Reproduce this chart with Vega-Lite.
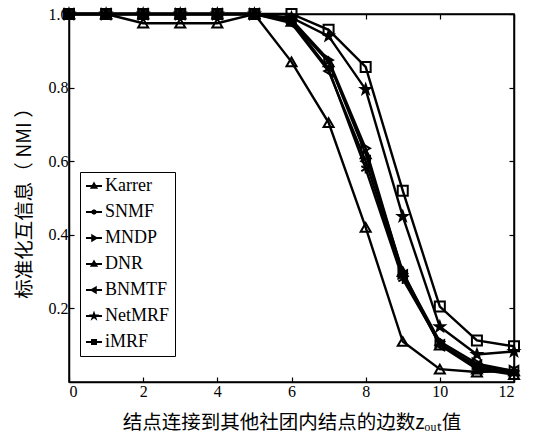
{
  "$schema": "https://vega.github.io/schema/vega-lite/v6.json",
  "width": 445,
  "height": 368,
  "autosize": {"type": "none"},
  "padding": {"left": 69, "top": 14, "right": 23, "bottom": 53},
  "background": "white",
  "config": {
    "view": {"stroke": "black", "strokeWidth": 1.5},
    "axis": {
      "grid": false,
      "domainColor": "black",
      "domainWidth": 1.5,
      "tickColor": "black",
      "tickWidth": 1.2,
      "tickSize": -5,
      "labelFont": "Liberation Serif",
      "labelFontSize": 16,
      "labelColor": "black",
      "labelPadding": 6,
      "titleFont": "Noto Sans CJK SC",
      "titleFontSize": 19.5,
      "titleFontWeight": "normal",
      "titleColor": "black"
    },
    "legend": {
      "orient": "none",
      "legendX": 11,
      "legendY": 158,
      "strokeColor": "black",
      "fillColor": "white",
      "padding": 5,
      "labelFont": "Liberation Serif",
      "labelFontSize": 18,
      "labelColor": "black",
      "symbolSize": 256,
      "symbolStrokeWidth": 2,
      "symbolStrokeColor": "black",
      "symbolOpacity": 1,
      "rowPadding": 8,
      "labelOffset": 2
    }
  },
  "data": {
    "values": [
      {"x": 0, "y": 1, "m": "Karrer"}, {"x": 1, "y": 1, "m": "Karrer"}, {"x": 2, "y": 0.975, "m": "Karrer"}, {"x": 3, "y": 0.975, "m": "Karrer"}, {"x": 4, "y": 0.975, "m": "Karrer"}, {"x": 5, "y": 1, "m": "Karrer"}, {"x": 6, "y": 0.87, "m": "Karrer"}, {"x": 7, "y": 0.705, "m": "Karrer"}, {"x": 8, "y": 0.42, "m": "Karrer"}, {"x": 9, "y": 0.11, "m": "Karrer"}, {"x": 10, "y": 0.035, "m": "Karrer"}, {"x": 11, "y": 0.027, "m": "Karrer"}, {"x": 12, "y": 0.03, "m": "Karrer"},
      {"x": 0, "y": 1, "m": "SNMF"}, {"x": 1, "y": 1, "m": "SNMF"}, {"x": 2, "y": 1, "m": "SNMF"}, {"x": 3, "y": 1, "m": "SNMF"}, {"x": 4, "y": 1, "m": "SNMF"}, {"x": 5, "y": 1, "m": "SNMF"}, {"x": 6, "y": 0.98, "m": "SNMF"}, {"x": 7, "y": 0.85, "m": "SNMF"}, {"x": 8, "y": 0.58, "m": "SNMF"}, {"x": 9, "y": 0.28, "m": "SNMF"}, {"x": 10, "y": 0.105, "m": "SNMF"}, {"x": 11, "y": 0.04, "m": "SNMF"}, {"x": 12, "y": 0.025, "m": "SNMF"},
      {"x": 0, "y": 1, "m": "MNDP"}, {"x": 1, "y": 1, "m": "MNDP"}, {"x": 2, "y": 1, "m": "MNDP"}, {"x": 3, "y": 1, "m": "MNDP"}, {"x": 4, "y": 1, "m": "MNDP"}, {"x": 5, "y": 1, "m": "MNDP"}, {"x": 6, "y": 0.985, "m": "MNDP"}, {"x": 7, "y": 0.875, "m": "MNDP"}, {"x": 8, "y": 0.635, "m": "MNDP"}, {"x": 9, "y": 0.295, "m": "MNDP"}, {"x": 10, "y": 0.11, "m": "MNDP"}, {"x": 11, "y": 0.05, "m": "MNDP"}, {"x": 12, "y": 0.03, "m": "MNDP"},
      {"x": 0, "y": 1, "m": "DNR"}, {"x": 1, "y": 1, "m": "DNR"}, {"x": 2, "y": 1, "m": "DNR"}, {"x": 3, "y": 1, "m": "DNR"}, {"x": 4, "y": 1, "m": "DNR"}, {"x": 5, "y": 1, "m": "DNR"}, {"x": 6, "y": 0.98, "m": "DNR"}, {"x": 7, "y": 0.87, "m": "DNR"}, {"x": 8, "y": 0.62, "m": "DNR"}, {"x": 9, "y": 0.3, "m": "DNR"}, {"x": 10, "y": 0.1, "m": "DNR"}, {"x": 11, "y": 0.035, "m": "DNR"}, {"x": 12, "y": 0.02, "m": "DNR"},
      {"x": 0, "y": 1, "m": "BNMTF"}, {"x": 1, "y": 1, "m": "BNMTF"}, {"x": 2, "y": 1, "m": "BNMTF"}, {"x": 3, "y": 1, "m": "BNMTF"}, {"x": 4, "y": 1, "m": "BNMTF"}, {"x": 5, "y": 1, "m": "BNMTF"}, {"x": 6, "y": 0.975, "m": "BNMTF"}, {"x": 7, "y": 0.845, "m": "BNMTF"}, {"x": 8, "y": 0.6, "m": "BNMTF"}, {"x": 9, "y": 0.29, "m": "BNMTF"}, {"x": 10, "y": 0.1, "m": "BNMTF"}, {"x": 11, "y": 0.045, "m": "BNMTF"}, {"x": 12, "y": 0.03, "m": "BNMTF"},
      {"x": 0, "y": 1, "m": "NetMRF"}, {"x": 1, "y": 1, "m": "NetMRF"}, {"x": 2, "y": 1, "m": "NetMRF"}, {"x": 3, "y": 1, "m": "NetMRF"}, {"x": 4, "y": 1, "m": "NetMRF"}, {"x": 5, "y": 1, "m": "NetMRF"}, {"x": 6, "y": 0.99, "m": "NetMRF"}, {"x": 7, "y": 0.94, "m": "NetMRF"}, {"x": 8, "y": 0.795, "m": "NetMRF"}, {"x": 9, "y": 0.45, "m": "NetMRF"}, {"x": 10, "y": 0.15, "m": "NetMRF"}, {"x": 11, "y": 0.075, "m": "NetMRF"}, {"x": 12, "y": 0.083, "m": "NetMRF"},
      {"x": 0, "y": 1, "m": "iMRF"}, {"x": 1, "y": 1, "m": "iMRF"}, {"x": 2, "y": 1, "m": "iMRF"}, {"x": 3, "y": 1, "m": "iMRF"}, {"x": 4, "y": 1, "m": "iMRF"}, {"x": 5, "y": 1, "m": "iMRF"}, {"x": 6, "y": 1, "m": "iMRF"}, {"x": 7, "y": 0.957, "m": "iMRF"}, {"x": 8, "y": 0.856, "m": "iMRF"}, {"x": 9, "y": 0.52, "m": "iMRF"}, {"x": 10, "y": 0.205, "m": "iMRF"}, {"x": 11, "y": 0.113, "m": "iMRF"}, {"x": 12, "y": 0.097, "m": "iMRF"}
    ]
  },
  "resolve": {
    "axis": {"x": "independent", "y": "independent"},
    "scale": {"shape": "independent"},
    "legend": {"shape": "independent"}
  },
  "layer": [
    {
      "mark": {"type": "line", "color": "black", "strokeWidth": 2.4},
      "encoding": {
        "x": {"field": "x", "type": "quantitative", "scale": {"domain": [0, 12], "nice": false},
              "axis": {"values": [0, 2, 4, 6, 8, 10, 12], "title": "结点连接到其他社团内结点的边数zₒᵤₜ值", "titlePadding": 14}},
        "y": {"field": "y", "type": "quantitative", "scale": {"domain": [0, 1], "nice": false},
              "axis": {"values": [0.2, 0.4, 0.6, 0.8, 1.0], "format": ".1f", "title": "标准化互信息（ NMI ）", "titlePadding": 14}},
        "detail": {"field": "m"}
      }
    },
    {
      "mark": {"type": "point", "filled": true, "stroke": "black", "strokeWidth": 2, "size": 100, "opacity": 1},
      "encoding": {
        "x": {"field": "x", "type": "quantitative", "axis": null},
        "y": {"field": "y", "type": "quantitative", "axis": null},
        "shape": {
          "field": "m", "type": "nominal",
          "scale": {
            "domain": ["Karrer", "SNMF", "MNDP", "DNR", "BNMTF", "NetMRF", "iMRF"],
            "range": ["triangle-up", "M0,-1V1M-0.87,-0.5L0.87,0.5M-0.87,0.5L0.87,-0.5", "triangle-right", "triangle-up", "triangle-left", "M0,-1L0.24,-0.33L0.95,-0.31L0.38,0.12L0.59,0.81L0,0.4L-0.59,0.81L-0.38,0.12L-0.95,-0.31L-0.24,-0.33Z", "square"]
          },
          "legend": null
        },
        "fill": {
          "field": "m", "type": "nominal",
          "scale": {
            "domain": ["Karrer", "SNMF", "MNDP", "DNR", "BNMTF", "NetMRF", "iMRF"],
            "range": ["transparent", "black", "transparent", "transparent", "transparent", "black", "transparent"]
          },
          "legend": null
        }
      }
    },
    {
      "mark": {"type": "point", "filled": false, "stroke": "black", "strokeWidth": 2, "opacity": 0},
      "encoding": {
        "x": {"field": "x", "type": "quantitative", "axis": null},
        "y": {"field": "y", "type": "quantitative", "axis": null},
        "shape": {
          "field": "m", "type": "nominal",
          "scale": {
            "domain": ["Karrer", "SNMF", "MNDP", "DNR", "BNMTF", "NetMRF", "iMRF"],
            "range": [
              "M-1,0H1M0,-0.3L0.3,0.22L-0.3,0.22Z",
              "M-1,0H1M0,-0.32V0.32M-0.28,-0.16L0.28,0.16M-0.28,0.16L0.28,-0.16",
              "M-1,0H1M-0.22,-0.3L0.3,0L-0.22,0.3Z",
              "M-1,0H1M0,-0.3L0.3,0.22L-0.3,0.22Z",
              "M-1,0H1M0.22,-0.3L-0.3,0L0.22,0.3Z",
              "M-1,0H1M0,-0.3L0.07,-0.1L0.29,-0.09L0.11,0.04L0.18,0.25L0,0.12L-0.18,0.25L-0.11,0.04L-0.29,-0.09L-0.07,-0.1Z",
              "M-1,0H1M-0.25,-0.25H0.25V0.25H-0.25Z"
            ]
          },
          "legend": {
            "title": null,
            "encode": {
              "symbols": {
                "fill": {"condition": {"test": "datum.value==='SNMF'||datum.value==='NetMRF'", "value": "black"}, "value": "white"}
              }
            }
          }
        }
      }
    },
    {
      "mark": {"type": "point", "opacity": 0},
      "encoding": {
        "x": {"field": "x", "type": "quantitative",
              "axis": {"orient": "top", "values": [0, 2, 4, 6, 8, 10, 12], "labels": false, "title": null}},
        "y": {"field": "y", "type": "quantitative",
              "axis": {"orient": "right", "values": [0.2, 0.4, 0.6, 0.8, 1.0], "labels": false, "title": null}}
      }
    }
  ]
}
